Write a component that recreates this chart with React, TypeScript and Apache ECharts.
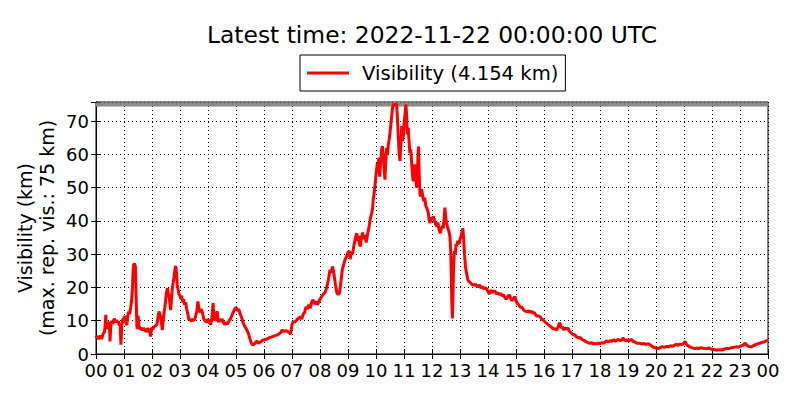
import React, { useEffect, useRef } from "react";
import * as echarts from "echarts";

const titleText = "Latest time: 2022-11-22 00:00:00 UTC";
const seriesName = "Visibility (4.154 km)";
const yAxisName = "Visibility (km)\n(max. rep. vis.: 75 km)";
const maxReportedVis = 75;

const hours: number[] = [
  0.0, 0.05, 0.1, 0.15, 0.2, 0.25, 0.3, 0.33, 0.35, 0.37, 0.4, 0.43, 0.46, 0.48, 0.5, 0.53, 0.56, 0.6, 0.63, 0.66, 0.7, 0.73, 0.76, 0.8, 0.83, 0.86, 0.89, 0.92, 0.95, 0.98,
  1.0, 1.03, 1.06, 1.1, 1.13, 1.16, 1.2, 1.24, 1.27, 1.3, 1.32, 1.34, 1.38, 1.41, 1.43, 1.46, 1.48, 1.5, 1.52, 1.55, 1.6, 1.65, 1.7, 1.75, 1.8, 1.85, 1.88, 1.92, 1.95, 1.98,
  2.03, 2.08, 2.13, 2.18, 2.22, 2.25, 2.28, 2.31, 2.34, 2.37, 2.4, 2.43, 2.46, 2.49, 2.52, 2.55, 2.58, 2.61, 2.64, 2.67, 2.7, 2.73, 2.76, 2.79, 2.82, 2.85, 2.88, 2.9, 2.93, 2.96,
  3.0, 3.03, 3.06, 3.1, 3.13, 3.16, 3.2, 3.24, 3.28, 3.32, 3.36, 3.4, 3.45, 3.5, 3.55, 3.6, 3.64, 3.67, 3.71, 3.75, 3.8, 3.85, 3.9, 3.95,
  4.0, 4.05, 4.1, 4.14, 4.18, 4.21, 4.24, 4.28, 4.33, 4.37, 4.4, 4.45, 4.5, 4.55, 4.6, 4.65, 4.7, 4.75, 4.8, 4.85, 4.9, 4.95,
  5.0, 5.05, 5.1, 5.15, 5.2, 5.25, 5.3, 5.35, 5.4, 5.45, 5.5, 5.55, 5.6, 5.65, 5.7, 5.75, 5.8, 5.85, 5.9, 5.95,
  6.0, 6.1, 6.2, 6.3, 6.4, 6.5, 6.6, 6.65, 6.7, 6.8, 6.9, 6.95,
  7.0, 7.05, 7.1, 7.2, 7.3, 7.35, 7.4, 7.45, 7.5, 7.55, 7.6, 7.65, 7.7, 7.75, 7.8, 7.85, 7.9, 7.95,
  8.0, 8.06, 8.12, 8.18, 8.24, 8.3, 8.33, 8.36, 8.4, 8.45, 8.5, 8.55, 8.6, 8.65, 8.7, 8.75, 8.8, 8.85, 8.9, 8.95,
  9.0, 9.05, 9.08, 9.12, 9.16, 9.2, 9.25, 9.28, 9.31, 9.35, 9.38, 9.41, 9.44, 9.48, 9.52, 9.56, 9.6, 9.65, 9.7, 9.73, 9.76, 9.79, 9.82, 9.85, 9.88, 9.9, 9.93, 9.96, 9.99,
  10.02, 10.05, 10.08, 10.1, 10.13, 10.16, 10.2, 10.23, 10.26, 10.29, 10.32, 10.35, 10.38, 10.41, 10.44, 10.47, 10.5, 10.53, 10.56, 10.59, 10.62, 10.66, 10.7, 10.74, 10.77, 10.8, 10.83, 10.86, 10.88, 10.92, 10.95, 10.98,
  11.01, 11.04, 11.07, 11.09, 11.12, 11.15, 11.18, 11.21, 11.24, 11.27, 11.3, 11.33, 11.36, 11.39, 11.42, 11.45, 11.48, 11.5, 11.52, 11.54, 11.57, 11.6, 11.63, 11.66, 11.7, 11.74, 11.78, 11.83, 11.87, 11.9, 11.93, 11.97,
  12.01, 12.05, 12.09, 12.13, 12.17, 12.21, 12.25, 12.29, 12.33, 12.37, 12.4, 12.43, 12.46, 12.49, 12.52, 12.56, 12.6, 12.64, 12.67, 12.69, 12.71, 12.73, 12.75, 12.77, 12.8, 12.83, 12.86, 12.88, 12.92, 12.96,
  13.0, 13.04, 13.08, 13.1, 13.13, 13.16, 13.2, 13.24, 13.28, 13.32, 13.36, 13.42, 13.5, 13.55, 13.6, 13.65, 13.7, 13.75, 13.8, 13.85, 13.9, 13.95,
  14.0, 14.05, 14.1, 14.15, 14.2, 14.25, 14.3, 14.35, 14.4, 14.45, 14.5, 14.55, 14.6, 14.65, 14.7, 14.75, 14.8, 14.85, 14.9, 14.96,
  15.0, 15.04, 15.1, 15.15, 15.2, 15.25, 15.3, 15.38, 15.45, 15.5, 15.55, 15.6, 15.65, 15.7, 15.75, 15.8, 15.86, 15.92,
  16.0, 16.05, 16.1, 16.15, 16.2, 16.25, 16.3, 16.35, 16.4, 16.45, 16.5, 16.55, 16.58, 16.62, 16.66, 16.7, 16.75, 16.8, 16.85, 16.9, 16.95,
  17.0, 17.05, 17.1, 17.15, 17.2, 17.25, 17.3, 17.35, 17.4, 17.45, 17.5, 17.55, 17.6, 17.65, 17.7, 17.76, 17.82, 17.88, 17.94,
  18.0, 18.06, 18.12, 18.18, 18.24, 18.3, 18.36, 18.42, 18.48, 18.54, 18.6, 18.66, 18.72, 18.78, 18.83, 18.88, 18.93, 18.98,
  19.03, 19.08, 19.13, 19.18, 19.25, 19.3, 19.36, 19.43, 19.5, 19.56, 19.62, 19.68, 19.73, 19.8, 19.86, 19.92,
  20.0, 20.08, 20.15, 20.22, 20.3, 20.38, 20.45, 20.52, 20.6, 20.68, 20.74, 20.8, 20.86, 20.92,
  21.0, 21.04, 21.08, 21.12, 21.18, 21.25, 21.32, 21.4, 21.45, 21.52, 21.6, 21.7, 21.8, 21.9,
  22.0, 22.1, 22.17, 22.25, 22.35, 22.45, 22.52, 22.6, 22.7, 22.8, 22.88, 22.95,
  23.02, 23.1, 23.15, 23.18, 23.22, 23.28, 23.35, 23.42, 23.5, 23.58, 23.65, 23.72, 23.8, 23.88, 23.95, 24.0,
];

const visKm: number[] = [
  5.5, 4.8, 4.6, 5.5, 4.5, 6.0, 6.5, 9, 11.8, 7.5, 8.5, 9.8, 8, 9.5, 3.8, 8.5, 10.0, 9, 10.2, 10.6, 9.5, 10.2, 9.5, 9.8, 8.5, 9.2, 2.8, 8.5, 10, 10.8,
  9.5, 11.5, 9.5, 8.7, 11, 12.7, 12, 14, 16, 19.5, 24, 26.8, 27.2, 26, 18, 8.5, 7.5, 11.5, 10, 7.5, 7.8, 7.2, 7.8, 7, 6.8, 7.8, 6.5, 7.5, 5.2, 7.8,
  7.5, 8.2, 8.5, 9, 11.5, 12.8, 12, 11, 9, 7.2, 10, 12.5, 14, 16.5, 18.5, 19.8, 18.2, 17.5, 15, 13.2, 17, 20, 21.5, 23.5, 25.5, 26.5, 24, 21, 19.5, 18,
  17.5, 16.5, 17.5, 15.5, 16.5, 14.8, 15.5, 13.5, 12, 10.2, 10.5, 9.8, 10.5, 10, 11, 13, 15.8, 14, 12.5, 13.5, 12.5, 10.5, 10, 9.5,
  10.5, 9.5, 8.8, 11, 15.3, 11.5, 10, 12, 12.8, 9.5, 10.5, 9.8, 10.5, 9.5, 8.8, 9.5, 9, 10, 10.5, 11.5, 12.5, 13.5,
  14, 13, 13.5, 12, 11, 9.5, 8.5, 7.8, 7, 6, 4.5, 3.2, 2.7, 3.0, 3.5, 3.9, 3.2, 3.5, 3.8, 4.2,
  4.2, 4.5, 4.9, 5.2, 5.5, 5.8, 6.5, 7.2, 6.8, 7, 6.5, 6,
  9, 9.8, 9.5, 10.5, 11.2, 10.5, 12, 12.5, 14.2, 13.5, 14.8, 13.8, 15.5, 16.3, 15, 15.8, 14.8, 15.5,
  16.5, 17.3, 18, 18.5, 20, 22.3, 24, 25.3, 24.5, 26.3, 24, 21, 18.5, 17.8, 18.5, 22, 25.5, 27, 28.5, 29.3,
  30.5, 31, 28.5, 30.5, 30, 32, 34.3, 35.5, 36.3, 34, 35.5, 33, 32.3, 35, 36.5, 34.5, 35.8, 33.5, 36, 37.3, 38.5, 40.4, 41.5, 42.4, 44, 46.4, 48, 50.4, 53,
  55.4, 57.4, 56, 59, 53.3, 57, 61.4, 62.5, 59, 56, 52.4, 58, 62, 60, 63, 64.5, 66.5, 69, 71.5, 74, 75, 75, 75, 75, 70, 64.5, 60, 58, 62, 68.5, 64, 66,
  70, 72.5, 75, 72, 66, 68, 64, 60.4, 61.5, 58, 54, 51.9, 55, 57, 53, 50, 54.4, 60, 62.4, 55, 48, 47.4, 49.5, 48, 45.9, 47, 44.5, 43.5, 42.4, 40, 39.4, 41,
  40.5, 41.4, 40, 39, 38.4, 39.5, 37.5, 36.3, 37.5, 38.5, 37.8, 40.5, 44, 41, 39.5, 38, 37, 35.3, 30.5, 23, 15, 10.7, 18, 26, 31, 30, 33, 32.3, 34, 33,
  34.5, 35.5, 37, 37.8, 35, 30, 26, 24, 22.3, 21.8, 21.5, 21, 20.6, 21, 20.5, 20.2, 20.8, 19.8, 20.3, 19.5, 20, 19.6,
  18.8, 18, 19.2, 18.5, 18.8, 19, 18, 18.5, 17.8, 18.2, 17.5, 17.8, 17, 16.5, 17.2, 17.8, 17, 16, 16.5, 17.3,
  16, 15.3, 14.8, 14, 14.2, 13.5, 13, 12.7, 13, 12.5, 12.9, 12.3, 12.5, 11.8, 11.3, 11.5, 11.2, 10.5,
  10, 9.5, 9.2, 8.8, 8.5, 8.2, 7.8, 7.5, 7.6, 7.2, 8, 9.3, 9, 7.8, 8.2, 7.2, 7.8, 7.5, 7.8, 7, 6.5,
  6.2, 5.7, 5.8, 5.2, 5.0, 4.8, 5.0, 4.4, 4.2, 4.0, 3.7, 3.5, 3.3, 3.2, 3.4, 3.0, 3.2, 3.0, 3.3,
  3.1, 3.4, 3.2, 3.6, 3.9, 3.6, 4.0, 3.8, 4.3, 3.9, 4.1, 4.4, 4.0, 4.3, 4.8, 4.2, 3.9, 4.3,
  3.9, 4.2, 4.4, 3.8, 3.6, 3.3, 3.2, 3.2, 3.0, 3.2, 2.9, 3.0, 3.1, 2.7, 2.3, 2.0,
  1.8, 1.6, 1.9, 2.2, 2.0, 2.3, 2.1, 2.5, 2.3, 2.8, 2.9, 2.6, 3.0, 2.8,
  3.3, 3.8, 3.0, 2.6, 2.3, 2.0, 1.8, 1.6, 1.8, 1.6, 1.9, 1.7, 1.6, 1.8,
  1.4, 1.3, 1.1, 1.3, 1.2, 1.5, 1.7, 1.6, 1.9, 2.0, 2.2, 2.0,
  2.4, 2.6, 3.0, 3.3, 2.8, 2.4, 2.2, 2.2, 2.6, 2.9, 3.1, 3.3, 3.5, 3.7, 4.0, 4.154,
];

const xTickHours: number[] = Array.from({ length: 25 }, (_, i) => i);
const yTicks: number[] = [0, 10, 20, 30, 40, 50, 60, 70];

const FONT = "DejaVu Sans";

export default function App() {
  const ref = useRef<HTMLDivElement>(null);
  useEffect(() => {
    document.body.style.margin = "0";
    if (!ref.current) return;
    const chart = echarts.init(ref.current, undefined, { renderer: "svg" });
    const data = hours.map((h, i) => [h, visKm[i]]);
    const tickSet = new Set(yTicks);
    const xFmt = (v: number) =>
      xTickHours.includes(v) ? String(v % 24).padStart(2, "0") : "";
    chart.setOption({
      animation: false,
      backgroundColor: "#ffffff",
      textStyle: { fontFamily: FONT },
      title: {
        text: titleText,
        left: 432,
        textAlign: "center",
        top: 23,
        padding: 0,
        textStyle: { fontFamily: FONT, fontSize: 23.4, fontWeight: "normal", color: "#000" },
      },
      legend: {
        data: [seriesName],
        left: 300,
        top: 55,
        padding: [8, 7, 8, 7],
        borderColor: "#000",
        borderWidth: 1,
        borderRadius: 0,
        icon: "rect",
        itemWidth: 42,
        itemHeight: 3,
        textStyle: { fontFamily: FONT, fontSize: 19.6, color: "#000", padding: [0, 0, 0, 8] },
      },
      grid: {
        left: 96,
        right: 32,
        top: 102,
        bottom: 46,
        show: true,
        borderColor: "#000",
        borderWidth: 1,
        backgroundColor: "transparent",
      },
      xAxis: [
        {
          type: "value",
          min: 0,
          max: 24,
          interval: 1,
          axisLine: { show: true, lineStyle: { color: "#000", width: 1 } },
          axisTick: { show: true, inside: true, length: 5, lineStyle: { color: "#000" } },
          axisLabel: { formatter: xFmt, fontFamily: FONT, fontSize: 18, color: "#000", margin: 7 },
          splitLine: { show: true, lineStyle: { color: "#000", type: [1, 3], width: 1 } },
        },
        {
          type: "value",
          position: "top",
          min: 0,
          max: 24,
          interval: 1,
          axisLine: { show: true, lineStyle: { color: "#000", width: 1 } },
          axisTick: { show: true, inside: true, length: 5, lineStyle: { color: "#000" } },
          axisLabel: { show: false },
          splitLine: { show: false },
        },
      ],
      yAxis: [
        {
          type: "value",
          min: 0,
          max: 75.75,
          interval: 10,
          name: yAxisName,
          nameLocation: "middle",
          nameRotate: 90,
          nameGap: 38,
          nameMoveOverlap: false,
          nameTextStyle: { fontFamily: FONT, fontSize: 19, color: "#000", lineHeight: 22 },
          axisLine: { show: true, lineStyle: { color: "#000", width: 1 } },
          axisTick: { show: true, inside: true, length: 5, lineStyle: { color: "#000" } },
          axisLabel: {
            formatter: (v: number) => (tickSet.has(v) ? String(v) : ""),
            fontFamily: FONT,
            fontSize: 18,
            color: "#000",
            margin: 7,
          },
          splitLine: { show: true, lineStyle: { color: "#000", type: [1, 3], width: 1 } },
        },
        {
          type: "value",
          position: "right",
          min: 0,
          max: 75.75,
          interval: 10,
          axisLine: { show: true, lineStyle: { color: "#000", width: 1 } },
          axisTick: { show: true, inside: true, length: 5, lineStyle: { color: "#000" } },
          axisLabel: { show: false },
          splitLine: { show: false },
        },
      ],
      series: [
        {
          name: "max",
          type: "line",
          data: [
            [0, maxReportedVis],
            [24, maxReportedVis],
          ],
          symbol: "none",
          silent: true,
          lineStyle: { color: "#8a8a8a", width: 4 },
          z: 1,
        },
        {
          name: seriesName,
          type: "line",
          data,
          symbol: "none",
          lineStyle: { color: "#ff0000", width: 3 },
          itemStyle: { color: "#ff0000" },
          z: 3,
        },
      ],
    });
    return () => chart.dispose();
  }, []);
  return <div ref={ref} style={{ width: 800, height: 400 }} />;
}
